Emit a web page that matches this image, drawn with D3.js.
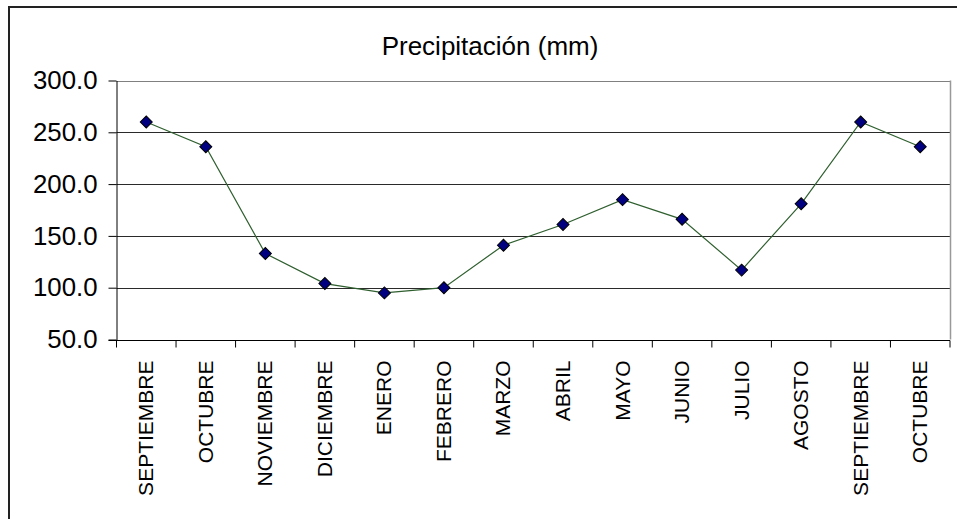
<!DOCTYPE html>
<html>
<head>
<meta charset="utf-8">
<script src="https://cdn.jsdelivr.net/npm/d3@7/dist/d3.min.js"></script>
<style>
  html, body { margin: 0; padding: 0; background: #fff; }
  svg { display: block; font-family: Arial, "Liberation Sans", sans-serif; }
</style>
</head>
<body>
<svg id="chart" width="957" height="519"></svg>
<script>
// Monthly precipitation (mm), Sept through the following October
const months = ["SEPTIEMBRE", "OCTUBRE", "NOVIEMBRE", "DICIEMBRE", "ENERO", "FEBRERO",
                "MARZO", "ABRIL", "MAYO", "JUNIO", "JULIO", "AGOSTO", "SEPTIEMBRE", "OCTUBRE"];
const precipitation = [260, 236, 133, 104, 95, 100, 141, 161, 185, 166, 117, 181, 260, 236];
const yTicks = [50, 100, 150, 200, 250, 300];
const title = "Precipitación (mm)";

const svg = d3.select("#chart");
const W = 957, H = 519;
const plot = { left: 116.5, top: 80.5, right: 950, bottom: 339.5 };

// Chart frame (open on the right and bottom)
svg.append("path")
  .attr("d", `M${W + 5},7 L9,7 L9,${H + 5}`)
  .attr("fill", "none")
  .attr("stroke", "#222")
  .attr("stroke-width", 2);

const keys = months.map((m, i) => i);
const x = d3.scaleBand().domain(keys).range([plot.left, plot.right]).paddingInner(0).paddingOuter(0);
const y = d3.scaleLinear().domain([50, 300]).range([plot.bottom, plot.top]);

// Horizontal gridlines
svg.append("g")
  .selectAll("line")
  .data(yTicks.filter(v => v > 50))
  .join("line")
  .attr("x1", plot.left)
  .attr("x2", plot.right)
  .attr("y1", d => Math.round(y(d)) + 0.5)
  .attr("y2", d => Math.round(y(d)) + 0.5)
  .attr("stroke", d => d === 300 ? "#808080" : "#2a2a2a")
  .attr("stroke-width", 1);

// Plot area right edge
svg.append("line")
  .attr("x1", plot.right + 0.5).attr("x2", plot.right + 0.5)
  .attr("y1", plot.top).attr("y2", plot.bottom)
  .attr("stroke", "#999").attr("stroke-width", 1.5);

// Y axis
const yAxis = svg.append("g")
  .attr("transform", `translate(${plot.left},0)`)
  .call(d3.axisLeft(y).tickValues(yTicks).tickFormat(d3.format(".1f")).tickSizeInner(8).tickSizeOuter(0).tickPadding(11));
yAxis.select(".domain").attr("stroke", "#000");
yAxis.selectAll(".tick line").attr("stroke", "#000");
yAxis.selectAll(".tick text")
  .attr("font-size", 25.8)
  .attr("fill", "#000")
  .attr("font-family", "Arial, 'Liberation Sans', sans-serif");

// X axis with boundary ticks between categories
const xAxisG = svg.append("g").attr("transform", `translate(0,${Math.round(plot.bottom) + 0.5})`);
xAxisG.append("line")
  .attr("x1", plot.left - 8).attr("x2", plot.right)
  .attr("stroke", "#000");
const boundaries = keys.map(k => x(k)).concat([x(keys[keys.length - 1]) + x.bandwidth()]);
xAxisG.selectAll("line.tk")
  .data(boundaries)
  .join("line")
  .attr("class", "tk")
  .attr("x1", d => d).attr("x2", d => d)
  .attr("y1", 0).attr("y2", 7)
  .attr("stroke", "#000");
xAxisG.selectAll("text")
  .data(months)
  .join("text")
  .attr("transform", (d, i) => `translate(${x(i) + x.bandwidth() / 2 + 7},20) rotate(-90)`)
  .attr("text-anchor", "end")
  .attr("font-size", 21)
  .attr("fill", "#000")
  .text(d => d);

// Series line
const line = d3.line()
  .x((d, i) => x(i) + x.bandwidth() / 2)
  .y(d => y(d));
svg.append("path")
  .datum(precipitation)
  .attr("d", line)
  .attr("fill", "none")
  .attr("stroke", "#2f5f2f")
  .attr("stroke-width", 1.2);

// Diamond markers
const diamond = d3.symbol().type(d3.symbolSquare).size(72);
svg.append("g")
  .selectAll("path")
  .data(precipitation)
  .join("path")
  .attr("d", diamond)
  .attr("transform", (d, i) => `translate(${x(i) + x.bandwidth() / 2},${y(d)}) rotate(45)`)
  .attr("fill", "#000080")
  .attr("stroke", "#000")
  .attr("stroke-width", 1);

// Title
svg.append("text")
  .attr("x", 490)
  .attr("y", 55)
  .attr("text-anchor", "middle")
  .attr("font-size", 26)
  .attr("fill", "#000")
  .text(title);
</script>
</body>
</html>
